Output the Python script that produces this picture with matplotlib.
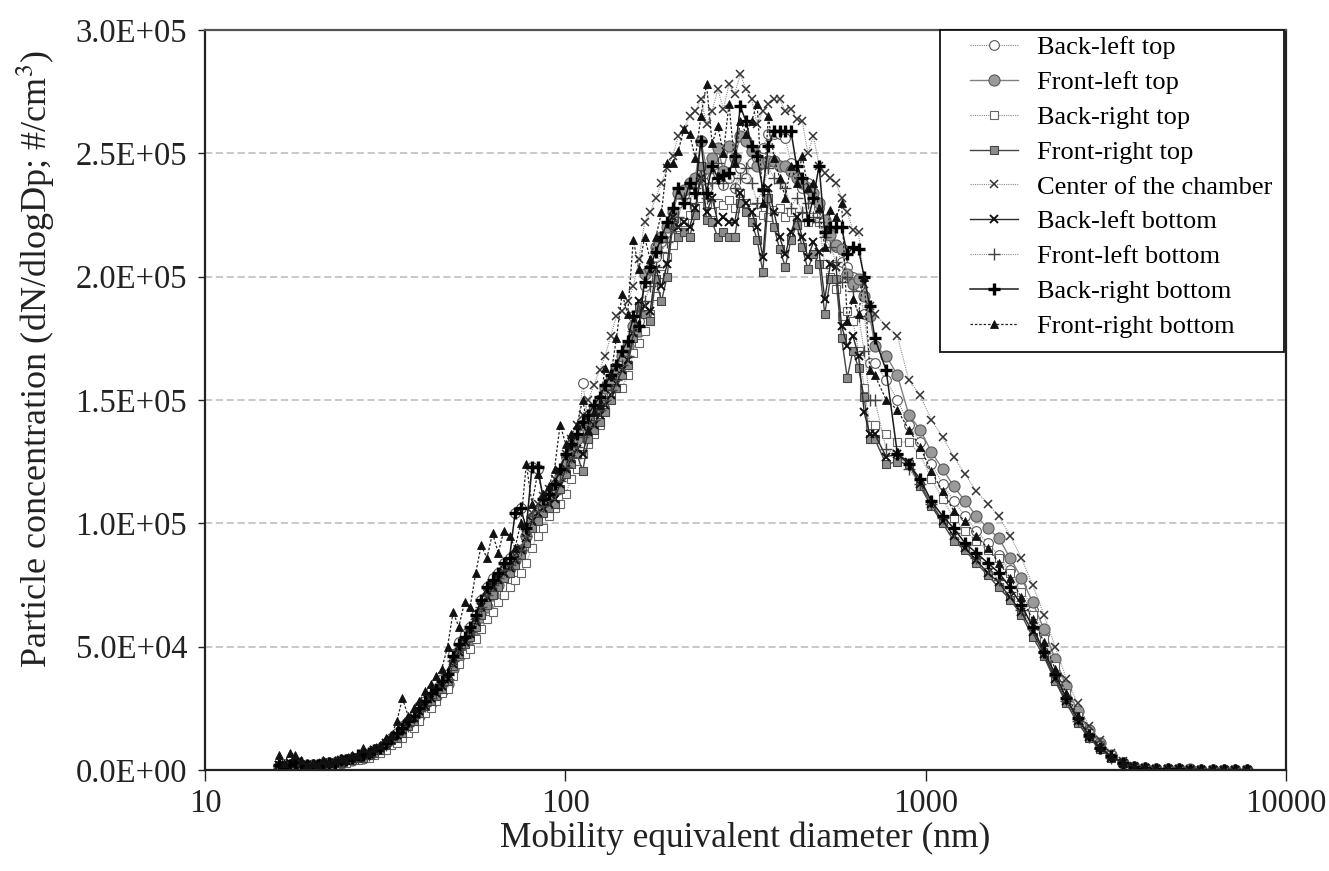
import matplotlib
matplotlib.use("Agg")
import matplotlib.pyplot as plt
from matplotlib.patches import Rectangle
from matplotlib.ticker import FixedLocator, FuncFormatter, NullLocator

# ---------------- data (diameter in nm, concentration in thousands #/cm3) ----------------
diam_smps = [
    16.0, 16.6, 17.2, 17.8, 18.5, 19.2, 19.9, 20.6, 21.3, 22.1,
    22.9, 23.8, 24.6, 25.5, 26.5, 27.5, 28.5, 29.5, 30.6, 31.7,
    32.9, 34.1, 35.3, 36.6, 38.0, 39.3, 40.8, 42.3, 43.8, 45.4,
    47.1, 48.8, 50.6, 52.5, 54.4, 56.4, 58.4, 60.6, 62.8, 65.1,
    67.5, 70.0, 72.5, 75.2, 77.9, 80.8, 83.7, 86.8, 90.0, 93.3,
    96.7, 100.3, 103.9, 107.7, 111.7, 115.8, 120.0, 124.4, 129.0, 133.7,
    138.6, 143.7, 148.9, 154.4, 160.0, 165.9, 172.0, 178.3, 184.8, 191.6,
    198.6, 205.9, 213.4, 221.2, 229.4, 237.8, 246.5, 255.5, 264.9, 274.6,
    284.6, 295.0, 305.9, 317.1, 328.7, 340.7, 353.2, 366.1, 379.5, 393.5,
    407.9, 422.8, 438.3, 454.4, 471.0, 488.3, 506.1, 524.7, 543.9, 563.8,
    584.5, 605.9, 628.1, 651.1, 675.0, 699.7,
]
diam_aps = [
    723, 777, 835, 898, 965, 1037, 1114, 1197, 1286, 1382,
    1486, 1596, 1715, 1843, 1981, 2129, 2288, 2458, 2642, 2839,
    3051, 3278, 3523, 3786, 4068, 4372, 4698, 5048, 5425, 5829,
    6264, 6732, 7234, 7774,
]
diameter = diam_smps + diam_aps

back_left_top = [
    1, 1, 2, 2, 2, 2, 2, 2, 3, 3,
    3, 4, 4, 5, 5, 6, 7, 8, 9, 11,
    13, 15, 18, 20, 22, 26, 28, 32, 33, 37,
    39, 47, 52, 55, 58, 63, 69, 74, 78, 80,
    84, 86, 104, 106, 98, 123, 122, 110, 112, 115,
    120, 127, 131, 134, 157, 142, 146, 150, 152, 156,
    160, 166, 170, 184, 182, 196, 200, 208, 214, 218,
    224, 230, 233, 236, 238, 242, 236, 240, 242, 237,
    240, 236, 244, 240, 246, 248, 252, 258, 258, 258,
    256, 246, 240, 236, 238, 232, 228, 222, 218, 212,
    206, 204, 200, 196, 185, 165,
    165, 158, 150, 140, 133, 124, 116, 109, 103, 97,
    92, 87, 81, 74, 65, 55, 44, 33, 23, 15.5,
    10, 6, 3, 1.3, 0.7, 0.45, 0.3, 0.22, 0.17, 0.13,
    0.1, 0.07, 0.05, 0.04,
]
front_left_top = [
    1, 1, 2, 2, 2, 1, 2, 2, 2, 3,
    3, 3, 4, 4, 5, 5, 6, 7, 8, 10,
    11, 13, 15, 17, 20, 22, 25, 27, 30, 32,
    35, 41, 46, 50, 53, 57, 62, 66, 71, 75,
    79, 82, 85, 89, 95, 102, 105, 107, 110, 114,
    119, 124, 130, 134, 140, 142, 146, 150, 155, 158,
    163, 168, 172, 180, 178, 201, 203, 212, 216, 220,
    226, 234, 235, 238, 240, 255, 244, 248, 252, 243,
    253, 248, 257, 255, 251, 245, 246, 247, 247, 245,
    245, 243, 240, 238, 236, 234, 230, 223, 217, 213,
    211, 201, 197, 199, 192, 184,
    172, 168, 160, 144, 138, 129, 122, 115, 109, 103,
    98, 94, 86, 78, 68, 57, 45, 34, 24, 16,
    11, 6, 3, 1.4, 0.8, 0.5, 0.35, 0.25, 0.2, 0.15,
    0.1, 0.08, 0.06, 0.05,
]
back_right_top = [
    1, 1, 2, 2, 1, 1, 1, 2, 2, 2,
    2, 3, 3, 4, 4, 5, 5, 6, 7, 8,
    10, 11, 13, 15, 17, 20, 23, 25, 28, 31,
    33, 38, 43, 47, 49, 53, 57, 61, 64, 68,
    71, 74, 77, 80, 84, 90, 95, 98, 103, 106,
    108, 112, 118, 122, 128, 132, 136, 140, 146, 153,
    155, 155, 160, 169, 173, 178, 185, 192, 201, 208,
    213, 217, 222, 225, 228, 232, 230, 226, 230, 229,
    231, 228, 234, 230, 228, 226, 225, 224, 227, 228,
    224, 226, 221, 224, 222, 224, 222, 205, 200, 195,
    184, 186, 182, 170, 155, 140,
    140, 136, 133, 133, 128, 118, 110, 102, 97, 93,
    89, 86, 80, 72, 63, 53, 42, 31, 22, 15,
    10, 6, 3, 1.4, 0.7, 0.45, 0.3, 0.22, 0.17, 0.12,
    0.1, 0.07, 0.05, 0.04,
]
front_right_top = [
    2, 1, 2, 3, 2, 1, 1, 2, 2, 2,
    3, 3, 4, 4, 5, 5, 6, 7, 8, 10,
    12, 13, 15, 18, 20, 23, 26, 28, 30, 33,
    36, 42, 47, 51, 54, 58, 63, 67, 71, 74,
    78, 80, 83, 87, 92, 98, 101, 104, 106, 108,
    114, 120, 124, 128, 121, 134, 138, 141, 145, 150,
    155, 160, 164, 175, 188, 185, 182, 199, 190, 200,
    221, 216, 218, 216, 225, 245, 223, 222, 216, 218,
    216, 216, 230, 226, 222, 215, 202, 232, 220, 211,
    204, 215, 221, 212, 203, 209, 205, 185, 199, 199,
    175, 159, 170, 163, 151, 134,
    134, 124, 125, 124, 115, 107, 100, 93, 89, 84,
    79, 74, 69, 63, 54, 46, 36, 27, 19, 13,
    8.5, 5, 2.7, 1.2, 0.6, 0.4, 0.3, 0.2, 0.15, 0.1,
    0.08, 0.06, 0.05, 0.04,
]
center_chamber = [
    2, 1, 3, 3, 2, 2, 1, 2, 2, 3,
    3, 3, 4, 5, 5, 6, 6, 8, 9, 10,
    12, 14, 16, 19, 21, 24, 27, 29, 31, 34,
    37, 44, 49, 52, 56, 61, 67, 72, 75, 78,
    80, 83, 87, 90, 98, 104, 108, 111, 114, 118,
    121, 128, 134, 140, 144, 150, 156, 162, 168, 176,
    184, 186, 190, 196, 207, 222, 226, 232, 238, 244,
    249, 257, 260, 265, 267, 272, 262, 267, 276, 268,
    278, 274, 282, 276, 272, 262, 267, 270, 272, 272,
    267, 268, 264, 263, 250, 257, 245, 242, 240, 238,
    232, 226, 219, 218, 197, 188,
    185, 180, 176, 158, 152, 142, 135, 127, 120, 113,
    108, 103, 95, 86, 75, 63, 50, 37, 27, 18,
    12, 7, 3.5, 1.5, 0.8, 0.5, 0.35, 0.25, 0.2, 0.15,
    0.1, 0.08, 0.06, 0.05,
]
back_left_bottom = [
    2, 2, 3, 3, 2, 2, 2, 2, 3, 3,
    3, 4, 4, 5, 5, 6, 7, 8, 9, 11,
    12, 14, 16, 19, 21, 24, 26, 29, 31, 34,
    37, 43, 48, 52, 55, 60, 66, 70, 74, 77,
    80, 82, 85, 89, 94, 101, 104, 106, 108, 110,
    116, 122, 126, 130, 128, 137, 140, 144, 148, 152,
    157, 162, 166, 177, 190, 188, 186, 203, 196, 205,
    224, 220, 222, 220, 228, 240, 226, 232, 222, 224,
    222, 222, 234, 230, 226, 220, 208, 236, 226, 216,
    209, 218, 224, 216, 208, 214, 210, 191, 205, 204,
    180, 172, 176, 168, 145, 136,
    136, 127, 128, 125, 116, 108, 101, 95, 90, 85,
    80, 76, 70, 64, 56, 47, 37, 28, 20, 13.5,
    9, 5, 2.8, 1.2, 0.6, 0.4, 0.3, 0.2, 0.15, 0.1,
    0.08, 0.06, 0.05, 0.04,
]
front_left_bottom = [
    2, 1, 2, 3, 2, 2, 1, 2, 2, 3,
    3, 3, 4, 5, 5, 6, 6, 7, 9, 10,
    12, 14, 16, 18, 21, 24, 26, 29, 31, 34,
    37, 44, 49, 52, 56, 61, 66, 71, 75, 78,
    81, 83, 86, 89, 95, 103, 105, 107, 110, 112,
    117, 123, 127, 131, 135, 139, 142, 146, 150, 154,
    158, 164, 168, 178, 186, 190, 196, 204, 210, 214,
    220, 224, 232, 230, 236, 240, 232, 238, 246, 238,
    242, 236, 240, 244, 238, 230, 236, 244, 240, 238,
    236, 228, 232, 226, 230, 224, 222, 216, 212, 206,
    198, 200, 194, 184, 170, 150,
    150, 130, 128, 122, 116, 108, 102, 96, 91, 86,
    82, 77, 72, 65, 57, 48, 38, 28, 20, 13.5,
    9, 5, 2.8, 1.2, 0.6, 0.4, 0.3, 0.2, 0.15, 0.1,
    0.08, 0.06, 0.05, 0.04,
]
back_right_bottom = [
    2, 1, 2, 3, 3, 2, 2, 2, 3, 3,
    3, 4, 4, 5, 6, 6, 7, 8, 9, 11,
    13, 15, 17, 20, 22, 25, 28, 31, 33, 36,
    39, 46, 51, 54, 58, 63, 69, 74, 77, 80,
    84, 86, 104, 106, 98, 123, 123, 110, 112, 116,
    122, 128, 132, 136, 141, 144, 148, 151, 156, 160,
    164, 170, 174, 184, 180, 198, 204, 210, 216, 222,
    228, 236, 230, 238, 234, 255, 234, 245, 240, 241,
    242, 249, 269, 263, 253, 249, 235, 253, 259, 259,
    259, 259, 245, 240, 223, 232, 245, 218, 220, 220,
    220, 209, 212, 211, 200, 188,
    175, 162, 128, 124, 118, 109, 103, 98, 92, 88,
    84, 80, 74, 67, 58, 48, 39, 29, 21, 14,
    9, 5.5, 3, 1.3, 0.7, 0.45, 0.3, 0.22, 0.17, 0.12,
    0.1, 0.07, 0.05, 0.04,
]
front_right_bottom = [
    6, 3, 7, 6, 4, 2, 3, 2, 4, 3,
    4, 5, 4, 6, 6, 9, 7, 9, 10, 13,
    14, 20, 29, 22, 25, 28, 32, 35, 38, 41,
    50, 64, 58, 68, 66, 80, 91, 86, 96, 88,
    97, 95, 90, 100, 124, 108, 120, 112, 115, 122,
    140, 132, 136, 140, 150, 138, 145, 148, 163, 160,
    175, 193, 185, 215, 203, 216, 207, 216, 226, 246,
    246, 251, 260, 258, 248, 265, 278, 254, 261, 250,
    270, 246, 263, 258, 263, 270, 230, 265, 248, 240,
    232, 245, 238, 249, 236, 238, 228, 212, 227, 224,
    230, 182, 191, 185, 200, 162,
    160, 150, 146, 138, 131, 121, 113, 105, 101, 95,
    90, 84, 78, 70, 61, 52, 41, 31, 22, 14.5,
    9.5, 5.5, 3, 1.3, 0.7, 0.45, 0.3, 0.22, 0.17, 0.12,
    0.1, 0.07, 0.05, 0.04,
]

series_labels = ["Back-left top", "Front-left top", "Back-right top", "Front-right top",
                 "Center of the chamber", "Back-left bottom", "Front-left bottom",
                 "Back-right bottom", "Front-right bottom"]
series_values = [back_left_top, front_left_top, back_right_top, front_right_top,
                 center_chamber, back_left_bottom, front_left_bottom,
                 back_right_bottom, front_right_bottom]

x_ticks = [10, 100, 1000, 10000]
y_ticks = [0, 50000, 100000, 150000, 200000, 250000, 300000]

# ---------------- styles ----------------
styles = [
    dict(ls=(0, (1, 1)), lw=0.8, color="#8a8a8a", marker="o", ms=7, mfc="white", mec="#555555", mew=0.8),
    dict(ls="-", lw=1.0, color="#808080", marker="o", ms=8, mfc="#9a9a9a", mec="#5a5a5a", mew=0.8),
    dict(ls=(0, (1, 1)), lw=0.8, color="#8a8a8a", marker="s", ms=6, mfc="white", mec="#666666", mew=0.8),
    dict(ls="-", lw=1.0, color="#444444", marker="s", ms=6, mfc="#8c8c8c", mec="#444444", mew=0.8),
    dict(ls=(0, (1, 1)), lw=0.8, color="#8a8a8a", marker="x", ms=6, mfc="none", mec="#333333", mew=1.1),
    dict(ls="-", lw=1.0, color="#2a2a2a", marker="x", ms=6, mfc="none", mec="#111111", mew=1.4),
    dict(ls=(0, (1, 1)), lw=0.8, color="#8a8a8a", marker="+", ms=9, mfc="none", mec="#444444", mew=1.0),
    dict(ls="-", lw=1.1, color="#1a1a1a", marker="+", ms=9, mfc="none", mec="#000000", mew=2.4),
    dict(ls=(0, (2, 1.5)), lw=0.9, color="#222222", marker="^", ms=6, mfc="#111111", mec="#111111", mew=0.6),
]

plt.rcParams["font.family"] = ["Liberation Serif", "DejaVu Serif"]
plt.rcParams["mathtext.fontset"] = "stix"

fig = plt.figure(figsize=(13.29, 8.71), dpi=100)
ax = fig.add_axes([0.1543, 0.116, 0.8133, 0.8496])

for vals, lab, st in zip(series_values, series_labels, styles):
    ax.plot(diameter, [v * 1000 for v in vals], label=lab, linestyle=st["ls"], linewidth=st["lw"],
            color=st["color"], marker=st["marker"], markersize=st["ms"],
            markerfacecolor=st["mfc"], markeredgecolor=st["mec"], markeredgewidth=st["mew"])

ax.set_xscale("log")
ax.set_xlim(10, 10000)
ax.set_ylim(0, 300000)
ax.xaxis.set_major_locator(FixedLocator(x_ticks))
ax.xaxis.set_minor_locator(NullLocator())
ax.xaxis.set_major_formatter(FuncFormatter(lambda v, p: "%d" % int(round(v))))
ax.yaxis.set_major_locator(FixedLocator(y_ticks))
ax.yaxis.set_major_formatter(FuncFormatter(lambda v, p: "%.1E" % v))

ax.yaxis.grid(True, linestyle=(0, (4, 2)), color="#c4c4c4", linewidth=1.3)
ax.set_axisbelow(True)

for side in ["left", "bottom", "right"]:
    ax.spines[side].set_color("#222222")
    ax.spines[side].set_linewidth(1.6)
ax.spines["top"].set_color("#555555")
ax.spines["top"].set_linewidth(1.6)

ax.tick_params(axis="y", direction="out", length=5, width=1, labelsize=23.5, pad=8, colors="#222222")
ax.tick_params(axis="x", direction="out", length=8, width=1, labelsize=23.5, pad=5, colors="#222222")

ax.set_xlabel("Mobility equivalent diameter (nm)", fontsize=25.5, labelpad=2, color="#222222")
ax.set_ylabel("Particle concentration (dN/dlogDp; #/cm$^3$)", fontsize=26, color="#222222")
ax.yaxis.set_label_coords(-0.137, 0.555)

# legend frame drawn as a rectangle, legend content placed inside it
frame = Rectangle((0.680, 0.565), 0.318, 0.435, transform=ax.transAxes, facecolor="white",
                  edgecolor="#111111", linewidth=1.3, zorder=4, clip_on=False)
ax.add_patch(frame)
leg = ax.legend(loc="upper left", bbox_to_anchor=(0.708, 0.992), fontsize=19, frameon=False,
                borderaxespad=0.0, borderpad=0.0, handlelength=1.8, handletextpad=0.72,
                labelspacing=0.43)
leg.set_zorder(5)

fig.savefig("out.png", dpi=100)
